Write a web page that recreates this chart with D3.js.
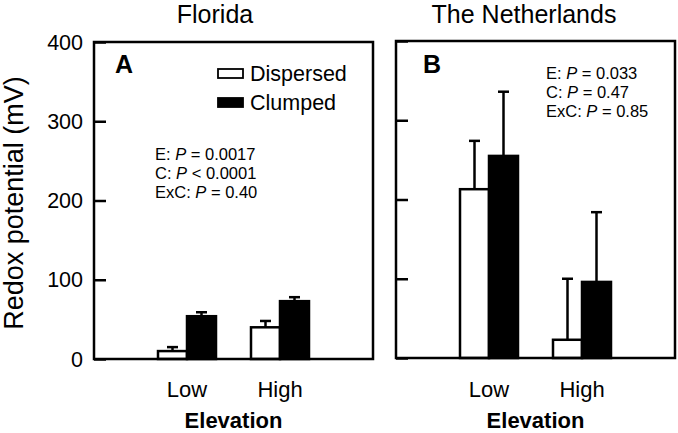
<!DOCTYPE html>
<html>
<head>
<meta charset="utf-8">
<script src="https://cdn.jsdelivr.net/npm/d3@7"></script>
<style>
  html, body { margin: 0; padding: 0; background: #fff; }
  svg { display: block; font-family: "Liberation Sans", Arial, sans-serif; }
</style>
</head>
<body>
<svg id="chart" width="678" height="433"></svg>
<script>
// ---- data ----
const elevations = ["Low", "High"];
const series = ["Dispersed", "Clumped"];
const yTicks = [0, 100, 200, 300, 400];

const floridaMean = { Dispersed: [10, 40], Clumped: [54, 73] };
const floridaErr  = { Dispersed: [5, 8],   Clumped: [5, 5] };

const nlMean = { Dispersed: [213, 23],  Clumped: [255, 96] };
const nlErr  = { Dispersed: [61, 77],   Clumped: [81, 88] };

const floridaStats = [["E: ", "P", " = 0.0017"], ["C: ", "P", " < 0.0001"], ["ExC: ", "P", " = 0.40"]];
const nlStats = [["E: ", "P", " = 0.033"], ["C: ", "P", " = 0.47"], ["ExC: ", "P", " = 0.85"]];

// ---- drawing ----
const svg = d3.select("#chart");
const fills = { Dispersed: "#fff", Clumped: "#000" };

function panel(opts) {
  const { x0, x1, y0, y1, mean, err, title, titleX, letter, letterX, stats, statsX, statsY, showLabels } = opts;
  const g = svg.append("g");
  const y = d3.scaleLinear().domain([0, 400]).range([y1, y0]);
  const xp = d3.scalePoint().domain(elevations).range([x0, x1]).padding(1);
  const bw = 29;

  // bars
  series.forEach((s, si) => {
    elevations.forEach((e, ei) => {
      const cx = xp(e);
      const left = si === 0 ? cx - bw : cx;
      const v = mean[s][ei];
      g.append("rect")
        .attr("x", left).attr("y", y(v))
        .attr("width", bw).attr("height", y(0) - y(v))
        .attr("fill", fills[s]).attr("stroke", "#000").attr("stroke-width", 2.5);
      const bc = left + bw / 2;
      const top = y(v + err[s][ei]);
      g.append("line").attr("x1", bc).attr("x2", bc).attr("y1", y(v)).attr("y2", top)
        .attr("stroke", "#000").attr("stroke-width", 2.5);
      g.append("line").attr("x1", bc - 5.5).attr("x2", bc + 5.5).attr("y1", top).attr("y2", top)
        .attr("stroke", "#000").attr("stroke-width", 2.5);
    });
  });

  // frame
  g.append("rect").attr("x", x0).attr("y", y0).attr("width", x1 - x0).attr("height", y1 - y0)
    .attr("fill", "none").attr("stroke", "#000").attr("stroke-width", 2.5);

  // y axis ticks (inside)
  const ax = g.append("g").attr("transform", `translate(${x0},0)`)
    .call(d3.axisRight(y).tickValues(yTicks).tickSize(12).tickFormat(""));
  ax.select(".domain").remove();
  ax.selectAll(".tick line").attr("stroke", "#000").attr("stroke-width", 2.5);
  if (showLabels) {
    yTicks.forEach(t => {
      g.append("text").attr("x", x0 - 11).attr("y", y(t) + 7.5)
        .attr("text-anchor", "end").attr("font-size", 21.5).text(t);
    });
  }

  // x labels
  elevations.forEach(e => {
    g.append("text").attr("x", xp(e)).attr("y", 397).attr("text-anchor", "middle")
      .attr("font-size", 22).text(e);
  });
  g.append("text").attr("x", (x0 + x1) / 2).attr("y", 428).attr("text-anchor", "middle")
    .attr("font-size", 22).attr("font-weight", "bold").text("Elevation");

  // title
  g.append("text").attr("x", titleX).attr("y", 23).attr("text-anchor", "middle")
    .attr("font-size", 25).text(title);

  // panel letter
  g.append("text").attr("x", letterX).attr("y", 73).attr("font-size", 25)
    .attr("font-weight", "bold").text(letter);

  // stats
  stats.forEach((parts, i) => {
    const t = g.append("text").attr("x", statsX).attr("y", statsY + i * 19).attr("font-size", 16.5);
    t.append("tspan").text(parts[0]);
    t.append("tspan").attr("font-style", "italic").text(parts[1]);
    t.append("tspan").text(parts[2]);
  });
  return g;
}

panel({ x0: 94, x1: 373, y0: 42, y1: 359, mean: floridaMean, err: floridaErr,
  title: "Florida", titleX: 215, letter: "A", letterX: 115,
  stats: floridaStats, statsX: 155, statsY: 160, showLabels: true });

panel({ x0: 396, x1: 675, y0: 41, y1: 358, mean: nlMean, err: nlErr,
  title: "The Netherlands", titleX: 524, letter: "B", letterX: 423,
  stats: nlStats, statsX: 546, statsY: 79, showLabels: false });

// legend (panel A)
const leg = svg.append("g");
series.forEach((s, i) => {
  leg.append("rect").attr("x", 218).attr("y", 69 + i * 29).attr("width", 25).attr("height", 9)
    .attr("fill", fills[s]).attr("stroke", "#000").attr("stroke-width", 1.8);
  leg.append("text").attr("x", 250).attr("y", 80.5 + i * 29).attr("font-size", 21.5).text(s);
});

// y axis title
svg.append("text").attr("transform", "translate(23,203) rotate(-90)")
  .attr("text-anchor", "middle").attr("font-size", 27).text("Redox potential (mV)");
</script>
</body>
</html>
